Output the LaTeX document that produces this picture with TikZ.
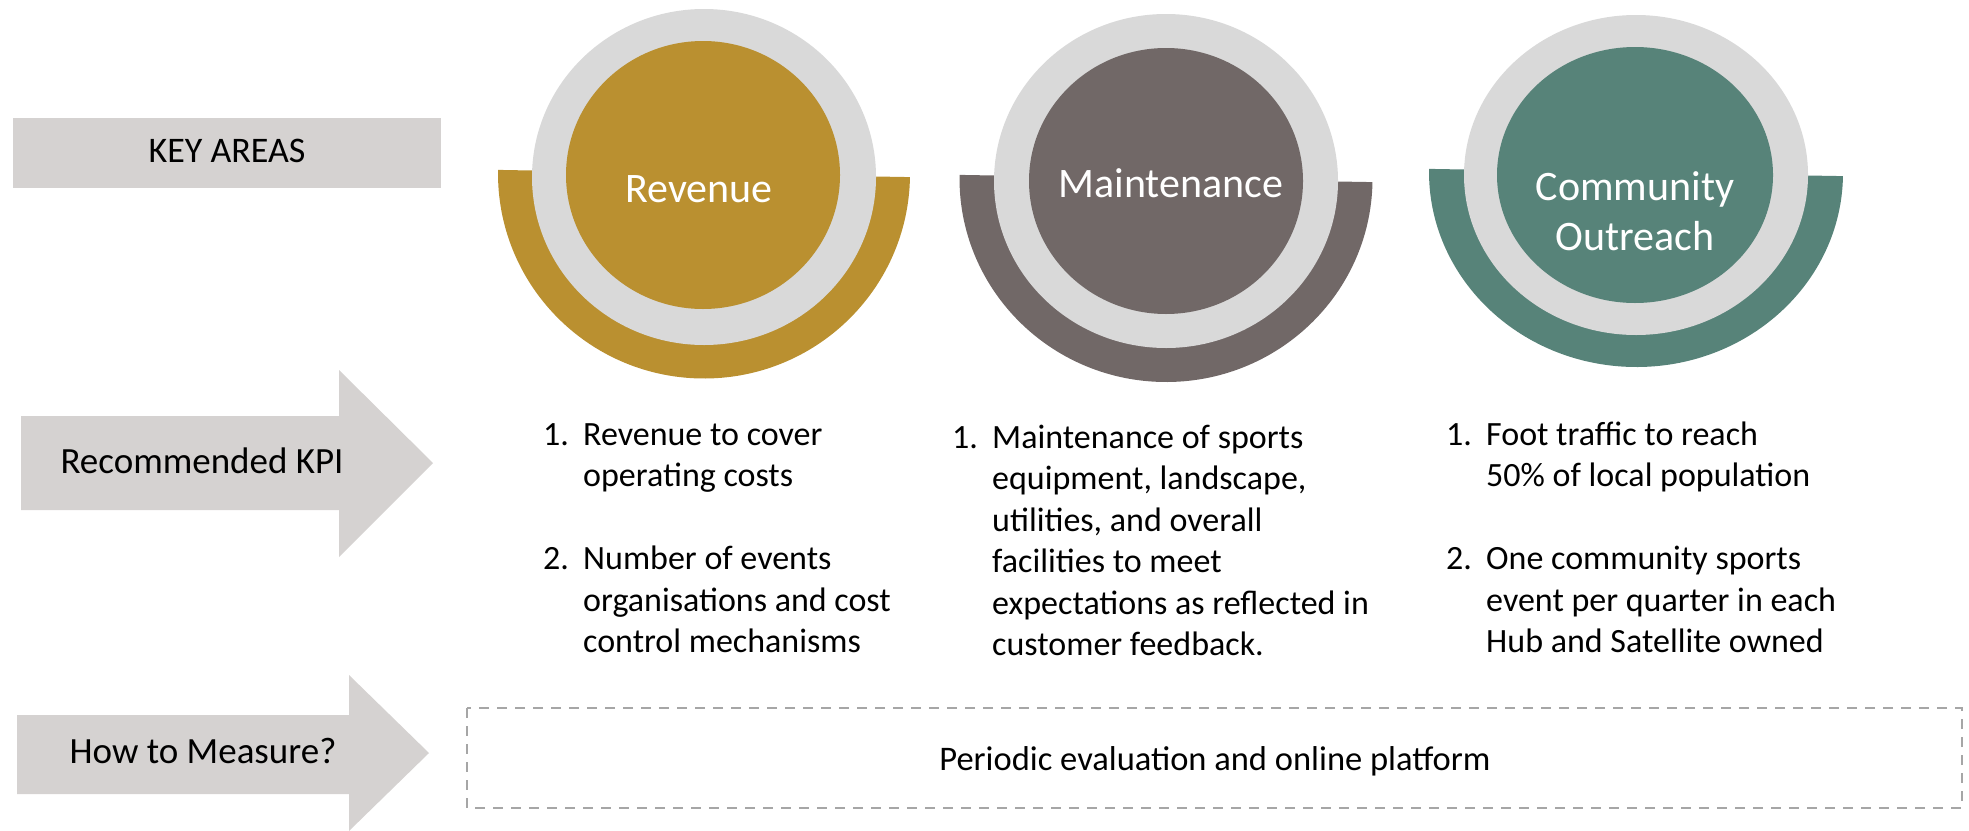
\documentclass[tikz,border=0pt]{standalone}
\usepackage{fontspec}
\setmainfont{Carlito}
\usetikzlibrary{shapes.geometric}
\definecolor{gold}{HTML}{BA9030}
\definecolor{taupe}{HTML}{716867}
\definecolor{teal}{HTML}{578379}
\definecolor{ring}{HTML}{D9D9D9}
\definecolor{labelgrey}{HTML}{D5D2D1}
\definecolor{dashgrey}{HTML}{A6A6A6}
\newcommand\kpiitem[2]{\hangindent=40pt\hangafter=1\noindent\makebox[40pt][l]{#1}#2\par}
\tikzset{
  ringshape/.style={ellipse, fill=ring, inner sep=0pt, outer sep=0pt},
  coreshape/.style={ellipse, inner sep=0pt, outer sep=0pt},
  titletext/.style={text=white, font=\fontsize{42pt}{50pt}\selectfont, inner sep=0pt, anchor=base},
  labeltext/.style={text=black, font=\fontsize{36pt}{43pt}\selectfont, inner sep=0pt, anchor=base},
  kpitext/.style={text=black, font=\fontsize{34pt}{41.5pt}\selectfont, inner sep=0pt, anchor=base west},
  labelfill/.style={fill=labelgrey},
}
\begin{document}
\begin{tikzpicture}[x=1pt,y=-1pt]
\useasboundingbox (0,0) rectangle (1969,830);

% ---------- left labels ----------
\fill[labelfill] (13,118) rectangle (441,188);
\node[labeltext] (keyareas) at (227,162) {KEY AREAS};

\fill[labelfill] (21,416) -- (339,416) -- (339,370) -- (433,463) -- (339,557) -- (339,510) -- (21,510) -- cycle;
\node[labeltext, font=\fontsize{37pt}{44pt}\selectfont] (kpilabel) at (202,473) {Recommended KPI};

\fill[labelfill] (17,715) -- (349,715) -- (349,675) -- (429,753) -- (349,831) -- (349,794) -- (17,794) -- cycle;
\node[labeltext, font=\fontsize{37pt}{44pt}\selectfont] (measurelabel) at (203,763) {How to Measure?};

% ---------- Revenue ----------
\fill[gold, rotate around={-1:(704,173.5)}] (498,173.5) arc[start angle=180, end angle=0, x radius=206, y radius=205] -- cycle;
\node[ringshape, minimum width=344pt, minimum height=336pt] (revring) at (704,177) {};
\node[coreshape, fill=gold, minimum width=274pt, minimum height=268pt] (revcore) at (703,175) {};
\node[titletext] (revtitle) at (699,202) {Revenue};

% ---------- Maintenance ----------
\fill[taupe, rotate around={-1:(1166,178.5)}] (959.5,178.5) arc[start angle=180, end angle=0, x radius=206.5, y radius=203.5] -- cycle;
\node[ringshape, minimum width=344pt, minimum height=334pt] (mainring) at (1166,181) {};
\node[coreshape, fill=taupe, minimum width=274pt, minimum height=266pt] (maincore) at (1166,181) {};
\node[titletext] (maintitle) at (1171,197) {Maintenance};

% ---------- Community Outreach ----------
\fill[teal, rotate around={-1:(1636,172.5)}] (1429,172.5) arc[start angle=180, end angle=0, x radius=207, y radius=194.5] -- cycle;
\node[ringshape, minimum width=344pt, minimum height=320pt] (comring) at (1636,175) {};
\node[coreshape, fill=teal, minimum width=276pt, minimum height=256pt] (comcore) at (1635,175) {};
\node[titletext] (comtitleA) at (1635,200) {Community};
\node[titletext] (comtitleB) at (1635,250) {Outreach};

% ---------- KPI texts ----------
\node[kpitext] (kpirev) at (543,445) {\parbox[t]{440pt}{\parskip=0pt
  \kpiitem{1.}{Revenue to cover\newline operating costs}\vspace{41.5pt}
  \kpiitem{2.}{Number of events\newline organisations and cost\newline control mechanisms}}};

\node[kpitext] (kpimain) at (952,448) {\parbox[t]{480pt}{\parskip=0pt
  \kpiitem{1.}{Maintenance of sports\newline equipment, landscape,\newline utilities, and overall\newline facilities to meet\newline expectations as reflected in\newline customer feedback.}}};

\node[kpitext] (kpicom) at (1446,445) {\parbox[t]{500pt}{\parskip=0pt
  \kpiitem{1.}{Foot traffic to reach\newline 50\% of local population}\vspace{41.5pt}
  \kpiitem{2.}{One community sports\newline event per quarter in each\newline Hub and Satellite owned}}};

% ---------- measurement box ----------
\draw[dashgrey, line width=2.5pt, dash pattern=on 10pt off 8pt] (467,708) rectangle (1962,808);
\node[text=black, font=\fontsize{34.5pt}{41pt}\selectfont, inner sep=0pt, anchor=base] (measure) at (1215,770) {Periodic evaluation and online platform};
\end{tikzpicture}
\end{document}
